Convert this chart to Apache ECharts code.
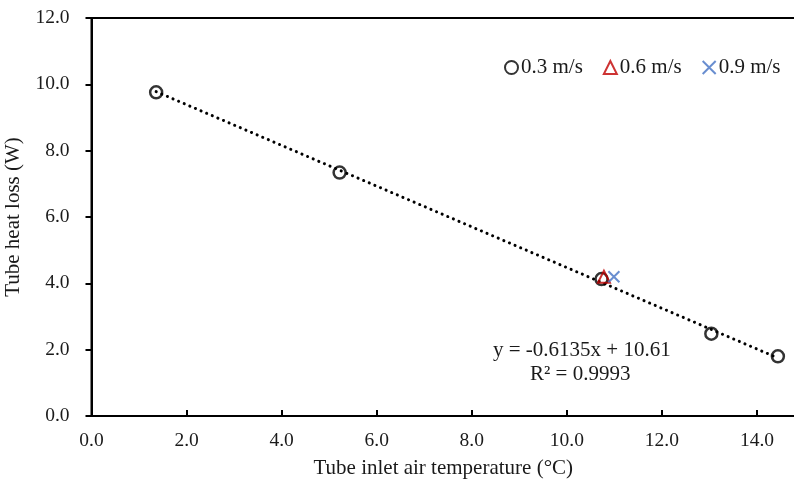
<!DOCTYPE html>
<html>
<head>
<meta charset="utf-8">
<script src="https://cdn.jsdelivr.net/npm/echarts@6/dist/echarts.min.js"></script>
<style>html,body{margin:0;padding:0;background:#fff}#c{width:794px;height:487px}</style>
</head>
<body>
<div id="c"></div>
<script>
// Data
const x03 = [1.36, 5.22, 10.73, 13.04, 14.44];
const y03 = [9.76, 7.34, 4.13, 2.48, 1.80];
const x06 = [10.78];
const y06 = [4.20];
const x09 = [10.99];
const y09 = [4.20];
const trendX = [1.36, 14.44];
const trendY = [9.78, 1.75];
const xTicks = [0, 2, 4, 6, 8, 10, 12, 14];
const seriesNames = ['0.3 m/s', '0.6 m/s', '0.9 m/s'];
const eqLine1 = 'y = -0.6135x + 10.61';
const eqLine2 = 'R² = 0.9993';

const zip = (a, b) => a.map((v, i) => [v, b[i]]);
const FONT = 'Liberation Serif';
const TXT = '#1a1a1a';

const chart = echarts.init(document.getElementById('c'), null, {renderer: 'canvas'});
chart.setOption({
  animation: false,
  backgroundColor: '#fff',
  textStyle: {fontFamily: FONT},
  grid: {left: 91.5, top: 18, right: -1, bottom: 71, show: true, borderColor: '#000', borderWidth: 2,
    containLabel: false, outerBoundsMode: 'none'},
  legend: {
    left: 499, top: 52, itemWidth: 13, itemHeight: 13, itemGap: 20,
    textStyle: {fontFamily: FONT, fontSize: 21, color: TXT, padding: [0, 0, 0, -2]},
    data: seriesNames
  },
  xAxis: {
    type: 'value', min: 0, max: 14.8,
    name: 'Tube inlet air temperature (°C)', nameLocation: 'middle', nameGap: 42,
    nameTextStyle: {fontFamily: FONT, fontSize: 21, color: TXT},
    axisLine: {show: true, lineStyle: {color: '#000', width: 2}},
    axisTick: {show: true, inside: true, length: 6, lineStyle: {color: '#000', width: 2}, customValues: xTicks},
    axisLabel: {fontFamily: FONT, fontSize: 19.5, color: TXT, margin: 15, customValues: xTicks,
      formatter: v => Number(v).toFixed(1)},
    splitLine: {show: false}
  },
  yAxis: {
    type: 'value', min: 0, max: 12, interval: 2,
    name: 'Tube heat loss (W)', nameLocation: 'middle', nameGap: 59,
    nameTextStyle: {fontFamily: FONT, fontSize: 21, color: TXT},
    axisLine: {show: true, lineStyle: {color: '#000', width: 2}},
    axisTick: {show: true, inside: false, length: 6, lineStyle: {color: '#000', width: 2}},
    axisLabel: {fontFamily: FONT, fontSize: 19.5, color: TXT, margin: 22,
      formatter: v => Number(v).toFixed(1)},
    splitLine: {show: false}
  },
  series: [
    {
      name: 'trend', type: 'line', data: zip(trendX, trendY), symbol: 'none', silent: true,
      lineStyle: {color: '#000', width: 3, type: [0.1, 6], cap: 'round'}, z: 1
    },
    {
      name: seriesNames[0], type: 'scatter', data: zip(x03, y03), symbol: 'circle', symbolSize: 12,
      itemStyle: {color: 'rgba(255,255,255,0)', borderColor: '#000', borderWidth: 2.5}, z: 3
    },
    {
      name: seriesNames[1], type: 'scatter', data: zip(x06, y06), symbol: 'triangle', symbolSize: 12,
      itemStyle: {color: 'rgba(255,255,255,0)', borderColor: '#C00000', borderWidth: 2}, z: 4
    },
    {
      name: seriesNames[2], type: 'scatter', data: zip(x09, y09), symbol: 'path://M0,0L10,10M10,0L0,10', symbolSize: 11,
      itemStyle: {color: 'rgba(255,255,255,0)', borderColor: '#4472C4', borderWidth: 2}, z: 5
    }
  ],
  graphic: [
    {type: 'text', left: 493, top: 340, style: {text: eqLine1, font: '21px "Liberation Serif"', fill: TXT}},
    {type: 'text', left: 530, top: 364, style: {text: eqLine2, font: '21px "Liberation Serif"', fill: TXT}}
  ]
});
</script>
</body>
</html>
